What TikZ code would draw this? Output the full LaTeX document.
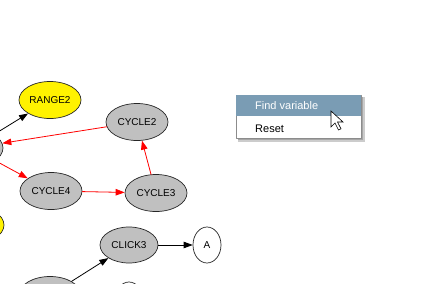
\documentclass[tikz,border=0pt]{standalone}
\usepackage{fontspec}
\setmainfont{Liberation Sans}
\usepackage{xcolor}
\usetikzlibrary{arrows.meta,shapes}
\definecolor{nodegray}{RGB}{192,192,192}
\definecolor{menublue}{RGB}{122,156,180}
\tikzset{
  every picture/.style={line join=round, line cap=round, >=Stealth},
  gnode/.style={ellipse, draw=black!85, fill=nodegray, line width=0.7pt,
    minimum width=62pt, minimum height=37pt, inner sep=0pt,
    font=\fontsize{10}{12}\selectfont},
  ynode/.style={gnode, fill=yellow},
  wnode/.style={gnode, fill=white, minimum width=28pt, minimum height=36pt},
  redge/.style={->, draw=red, line width=0.8pt},
  bedge/.style={->, draw=black, line width=0.8pt},
  menutext/.style={anchor=west, inner sep=0pt, font=\fontsize{11}{13}\selectfont},
}

\begin{document}
\begin{tikzpicture}[x=1pt,y=-1pt,>={Stealth[inset=0pt,length=9pt,width=6.5pt]}]
\useasboundingbox (0,0) rectangle (421,284);
\clip (0,0) rectangle (421,284);
% graph
\node[gnode] (cycle1) at (-28,148) {};
\node[ynode] (range2) at (50,100) {RANGE2};
\node[gnode] (cycle2) at (137,122) {CYCLE2};
\node[gnode] (cycle4) at (51,191) {CYCLE4};
\node[gnode] (cycle3) at (156,193) {CYCLE3};
\node[ynode] (range1) at (-27,225) {};
\node[gnode,minimum width=58pt,minimum height=36pt] (click3) at (129,245) {CLICK3};
\node[wnode] (a) at (207,245) {A};
\node[gnode] (click2) at (50,295) {};
\node[wnode] (b) at (129,300) {};
\draw[bedge] (cycle1) -- (range2);
\draw[redge] (cycle2) -- (cycle1);
\draw[redge] (cycle1) -- (cycle4);
\draw[redge] (cycle4) -- (cycle3);
\draw[redge] (cycle3) -- (cycle2);
\draw[bedge] (click3) -- (a);
\draw[bedge] (click2) -- (click3);
% context menu
\fill[black!20] (238,97) rectangle (365,142);
\fill[black!35] (238,97) rectangle (363,140);
\draw[black!45,fill=white,line width=0.6pt] (236,95) rectangle (361,138);
\fill[menublue] (236.3,95.3) rectangle (360.7,115.5);
\node[menutext,text=white] (find) at (255,106) {Find variable};
\node[menutext] (reset) at (255,128.5) {Reset};
% mouse pointer
\draw[fill=white,line width=0.6pt,line join=miter] (331,111) -- ++(0,16) -- ++(4,-4)
  -- ++(3.5,7) -- ++(2.5,-1.2) -- ++(-3.5,-6.8) -- ++(5.5,0) -- cycle;
\end{tikzpicture}
\end{document}
